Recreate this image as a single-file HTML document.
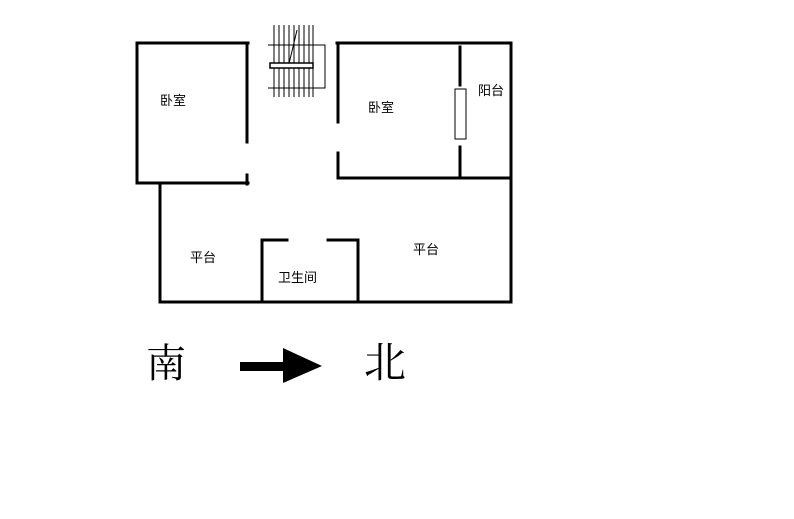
<!DOCTYPE html>
<html><head><style>
body{margin:0;background:#fff;width:794px;height:519px;overflow:hidden}
</style></head><body>
<svg width="794" height="519" xmlns="http://www.w3.org/2000/svg" style="position:absolute;left:0;top:0">
<g stroke="#000" stroke-width="3" fill="none" stroke-linecap="square">
<path d="M137 43H248M137 43V183H248M247 43V142M247 175V184"/>
<path d="M160 183V302H511V43H337M338 43V122M338 153V178H511"/>
<path d="M460 47V85M460 147V178"/>
<path d="M262 302V240H287M328 240H358V302"/>
</g>
<rect x="455" y="89" width="11" height="50" fill="none" stroke="#000" stroke-width="1"/>
<g stroke="#000" stroke-width="1" fill="none">
<path d="M274 25V97M279 25V97M284 25V97M289 25V97M294 25V97M299 25V97M304 25V97M309 25V97M313 25V97"/>
<path d="M268 45H325V88H268"/>
<path d="M297 30L288 68"/>
</g>
<rect x="270" y="63" width="43" height="5" fill="#fff" stroke="#000" stroke-width="1.5"/>
<g font-family="Liberation Sans, Noto Sans CJK SC, sans-serif" font-size="13" fill="#000">
<text x="160" y="105">卧室</text>
<text x="368" y="112">卧室</text>
<text x="478" y="95">阳台</text>
<text x="190" y="262">平台</text>
<text x="413" y="254">平台</text>
<text x="278" y="282">卫生间</text>
</g>
<g font-family="Liberation Serif, Noto Serif CJK SC, serif" font-size="40" fill="#000">
<text x="146" y="377">南</text>
<text x="364" y="377" font-size="42">北</text>
</g>
<path d="M240 362H283V348L322 366L283 383V371H240Z" fill="#000"/>
</svg>
</body></html>
